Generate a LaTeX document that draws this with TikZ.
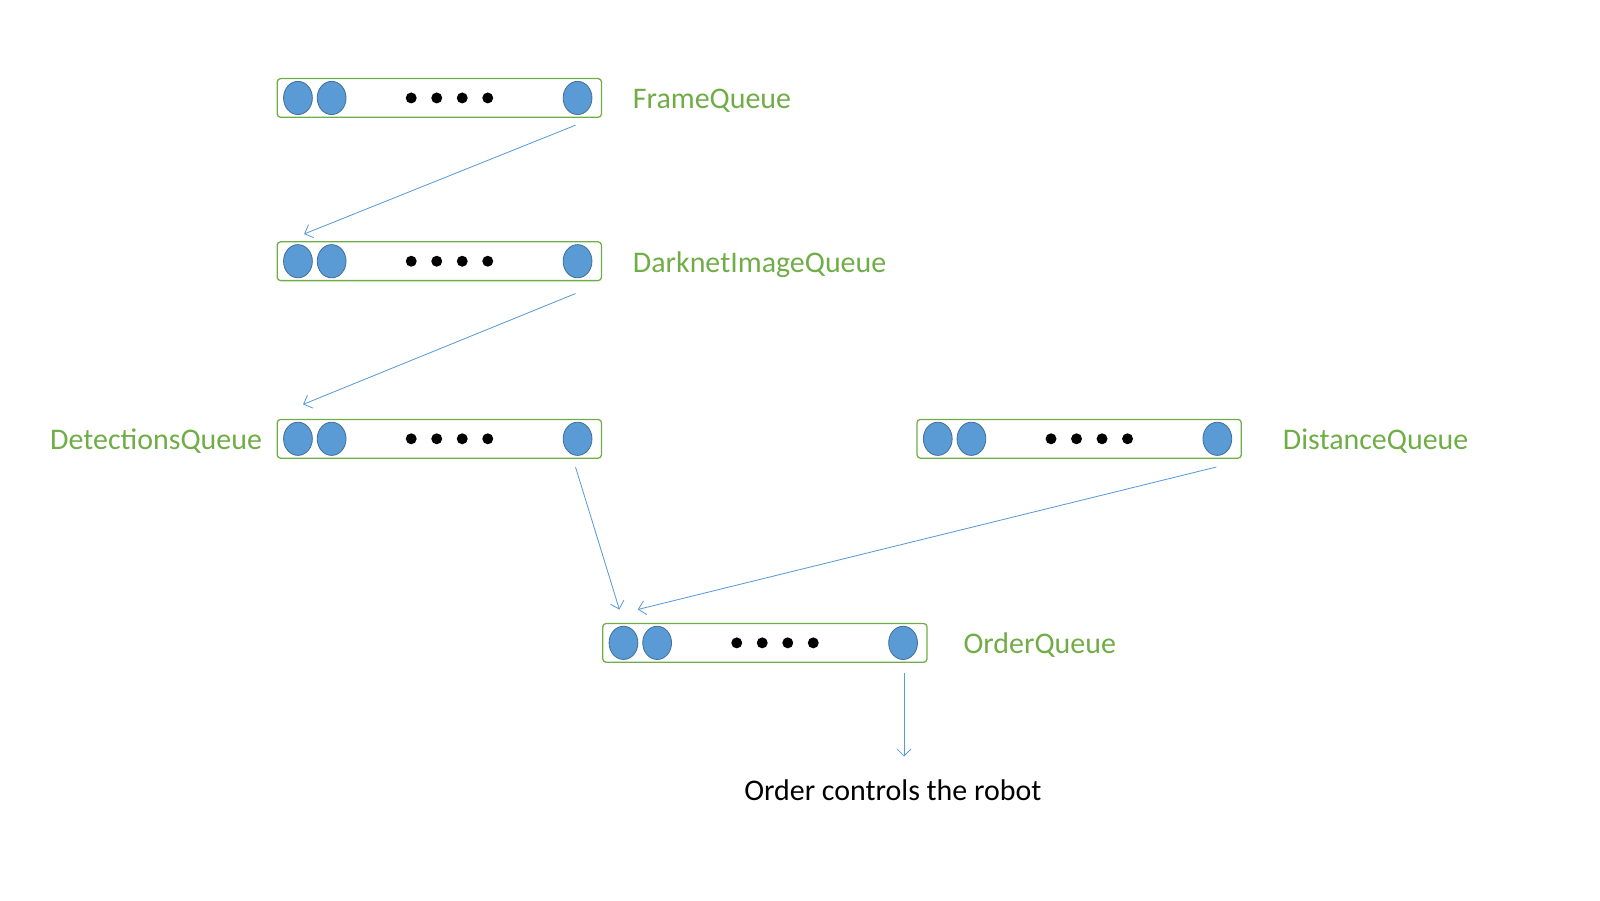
\documentclass[tikz,border=0pt]{standalone}
\usepackage{fontspec}
\setmainfont{Carlito}
\usetikzlibrary{calc, arrows.meta, shapes.geometric}

\definecolor{qgreen}{HTML}{70AD47}
\definecolor{qblue}{HTML}{5B9BD5}
\definecolor{qedge}{HTML}{41719C}

\tikzset{
    qbox/.style={draw=qgreen, line width=0.9pt, rounded corners=2.5pt, minimum width=8.11cm, minimum height=0.97cm, inner sep=0pt},
    qball/.style={ellipse, draw=qedge, fill=qblue, line width=0.6pt, minimum width=0.72cm, minimum height=0.83cm, inner sep=0pt},
    qlabel/.style={text=qgreen, font=\fontsize{21.3}{25}\selectfont, inner sep=0pt},
    flow/.style={draw=qblue, line width=0.6pt, -{Straight Barb[length=5pt, width=10pt]}}
}

% one queue: name, left x, middle y
\newcommand{\drawqueue}[3]{%
    \node[qbox, anchor=west] (#1) at (#2,#3) {};
    \node[qball] (#1-1) at (#2+21,#3) {};
    \node[qball] (#1-2) at (#2+54,#3) {};
    \node[qball] (#1-3) at (#2+295,#3) {};
    \foreach \k in {0,...,3}
        \fill (#2+132+25*\k,#3) circle (0.137cm);
}

\begin{document}
\begin{tikzpicture}[x=0.02551cm, y=-0.02551cm]
    \useasboundingbox (0,0) rectangle (1568,882);
    \tikzset{every node/.append style={font=\fontsize{21.3}{25}\selectfont}}

    \drawqueue{frame}{271}{96}
    \drawqueue{dark}{271}{256}
    \drawqueue{detect}{271}{430}
    \drawqueue{dist}{898}{430}
    \drawqueue{order}{590}{630}

    \node[qlabel, anchor=west] (frame-l) at (620,99) {FrameQueue};
    \node[qlabel, anchor=west] (dark-l) at (620,259) {DarknetImageQueue};
    \node[qlabel, anchor=east] (detect-l) at (257,432) {DetectionsQueue};
    \node[qlabel, anchor=west] (dist-l) at (1257,432) {DistanceQueue};
    \node[qlabel, anchor=west] (order-l) at (944,632) {OrderQueue};
    \node[inner sep=0pt] (robot) at (875,774) {Order controls the robot};

    \draw[flow] ($(frame-3.south)+(-2,10)$) -- ($(dark-1.north)+(6,-10)$);
    \draw[flow] ($(dark-3.south)+(-2,15)$) -- ($(detect-1.north)+(5,-17)$);
    \draw[flow] ($(detect-3.south)+(-2,11)$) -- ($(order-1.north)+(-4,-16)$);
    \draw[flow] ($(dist-3.south)+(-1,11)$) -- ($(order-1.north)+(14,-16)$);
    \draw[flow] ($(order-3.south)+(1,13)$) -- ($(robot.north -| order-3.south)+(1,-22)$);
\end{tikzpicture}
\end{document}
